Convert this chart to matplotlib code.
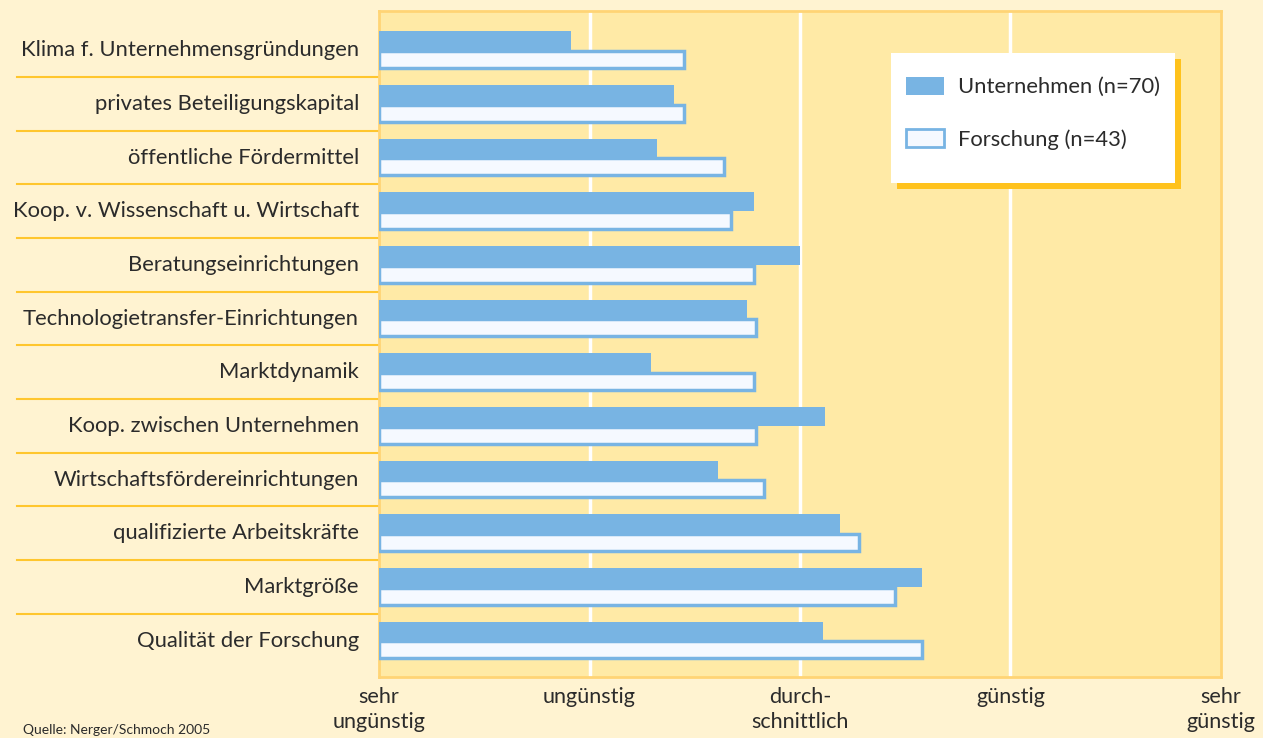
import numpy as np
import matplotlib.pyplot as plt
from matplotlib.patches import Rectangle
from matplotlib.lines import Line2D

# Kategorien und Werte (1 = sehr ungünstig ... 5 = sehr günstig)
kategorien = [
    "Klima f. Unternehmensgründungen",
    "privates Beteiligungskapital",
    "öffentliche Fördermittel",
    "Koop. v. Wissenschaft u. Wirtschaft",
    "Beratungseinrichtungen",
    "Technologietransfer-Einrichtungen",
    "Marktdynamik",
    "Koop. zwischen Unternehmen",
    "Wirtschaftsfördereinrichtungen",
    "qualifizierte Arbeitskräfte",
    "Marktgröße",
    "Qualität der Forschung",
]
unternehmen = [1.91, 2.40, 2.32, 2.78, 3.00, 2.75, 2.29, 3.12, 2.61, 3.19, 3.58, 3.11]
forschung = [2.45, 2.45, 2.64, 2.67, 2.78, 2.79, 2.78, 2.79, 2.83, 3.28, 3.45, 3.58]

skala_pos = [1, 2, 3, 4, 5]
skala_text = ["sehr\nungünstig", "ungünstig", "durch-\nschnittlich", "günstig", "sehr\ngünstig"]

# Farben
blau = "#78B4E3"
hell = "#F5F9FF"
creme = "#FFF3D1"
gelb = "#FFEAA6"
rand = "#FFD475"
linie = "#FFC62E"
schatten = "#FFC21C"
textfarbe = "#2B2B2B"

plt.rcParams['font.family'] = ['Lato', 'DejaVu Sans']

W, H = 1263, 738
fig = plt.figure(figsize=(W / 100, H / 100), dpi=100, facecolor=creme)
ax = fig.add_axes([379 / W, 1 - 677 / H, (1221 - 379) / W, (677 - 11) / H])
ax.set_facecolor(gelb)

y = np.arange(len(kategorien))
h = 0.35
ax.barh(y - h / 2, np.array(unternehmen) - 1, left=1, height=h, color=blau, zorder=3)
ax.barh(y + h / 2, np.array(forschung) - 1, left=1, height=h * 0.9, color=hell,
        edgecolor=blau, linewidth=2.5, zorder=3)

ax.set_xlim(1, 5)
ax.set_ylim(11.68, -0.73)

# weiße Gitterlinien
for xv in [2, 3, 4]:
    ax.axvline(xv, color="white", lw=2.5, zorder=1)

for s in ax.spines.values():
    s.set_color(rand)
    s.set_linewidth(2)

ax.set_yticks([])
ax.set_xticks(skala_pos)
ax.set_xticklabels(skala_text, fontsize=15.6, color=textfarbe, va="top", linespacing=1.35)
ax.tick_params(axis="x", length=0, pad=7)

# Kategorienbeschriftung links
for i, k in enumerate(kategorien):
    ax.text(1 - 20 / 842 * 4, i, k, ha="right", va="center", fontsize=15.8,
            color=textfarbe, clip_on=False)

# Trennlinien links
for i in range(len(kategorien) - 1):
    yy = i + 0.5
    ax.add_line(Line2D([1 - (379 - 17) / 842 * 4, 1], [yy, yy], color=linie, lw=1.5,
                       clip_on=False, zorder=2))

# Legendenkasten mit Schatten
ax.add_patch(Rectangle(((897 - 379) / 842, (677 - 189) / 666), (1181 - 897) / 842, (189 - 59) / 666,
                       transform=ax.transAxes, facecolor=schatten, edgecolor="none", zorder=4))
ax.add_patch(Rectangle(((891 - 379) / 842, (677 - 183) / 666), (1175 - 891) / 842, (183 - 53) / 666,
                       transform=ax.transAxes, facecolor="white", edgecolor="none", zorder=5))
hu = Rectangle((0, 0), 1, 1, facecolor=blau, edgecolor="none")
hf = Rectangle((0, 0), 1, 1, facecolor=hell, edgecolor=blau, linewidth=2)
leg = ax.legend([hu, hf], ["Unternehmen (n=70)", "Forschung (n=43)"], loc="upper left",
                bbox_to_anchor=((906 - 379) / 842, (677 - 77) / 666), frameon=False, fontsize=15.8,
                handlelength=1.75, handleheight=0.85, handletextpad=0.62, labelspacing=1.45,
                borderpad=0, borderaxespad=0, labelcolor=textfarbe)
leg.set_zorder(6)

fig.text(23 / W, 2 / H, "Quelle: Nerger/Schmoch 2005", fontsize=10, color=textfarbe, va="bottom")

fig.savefig("out.png", dpi=100, facecolor=creme)
